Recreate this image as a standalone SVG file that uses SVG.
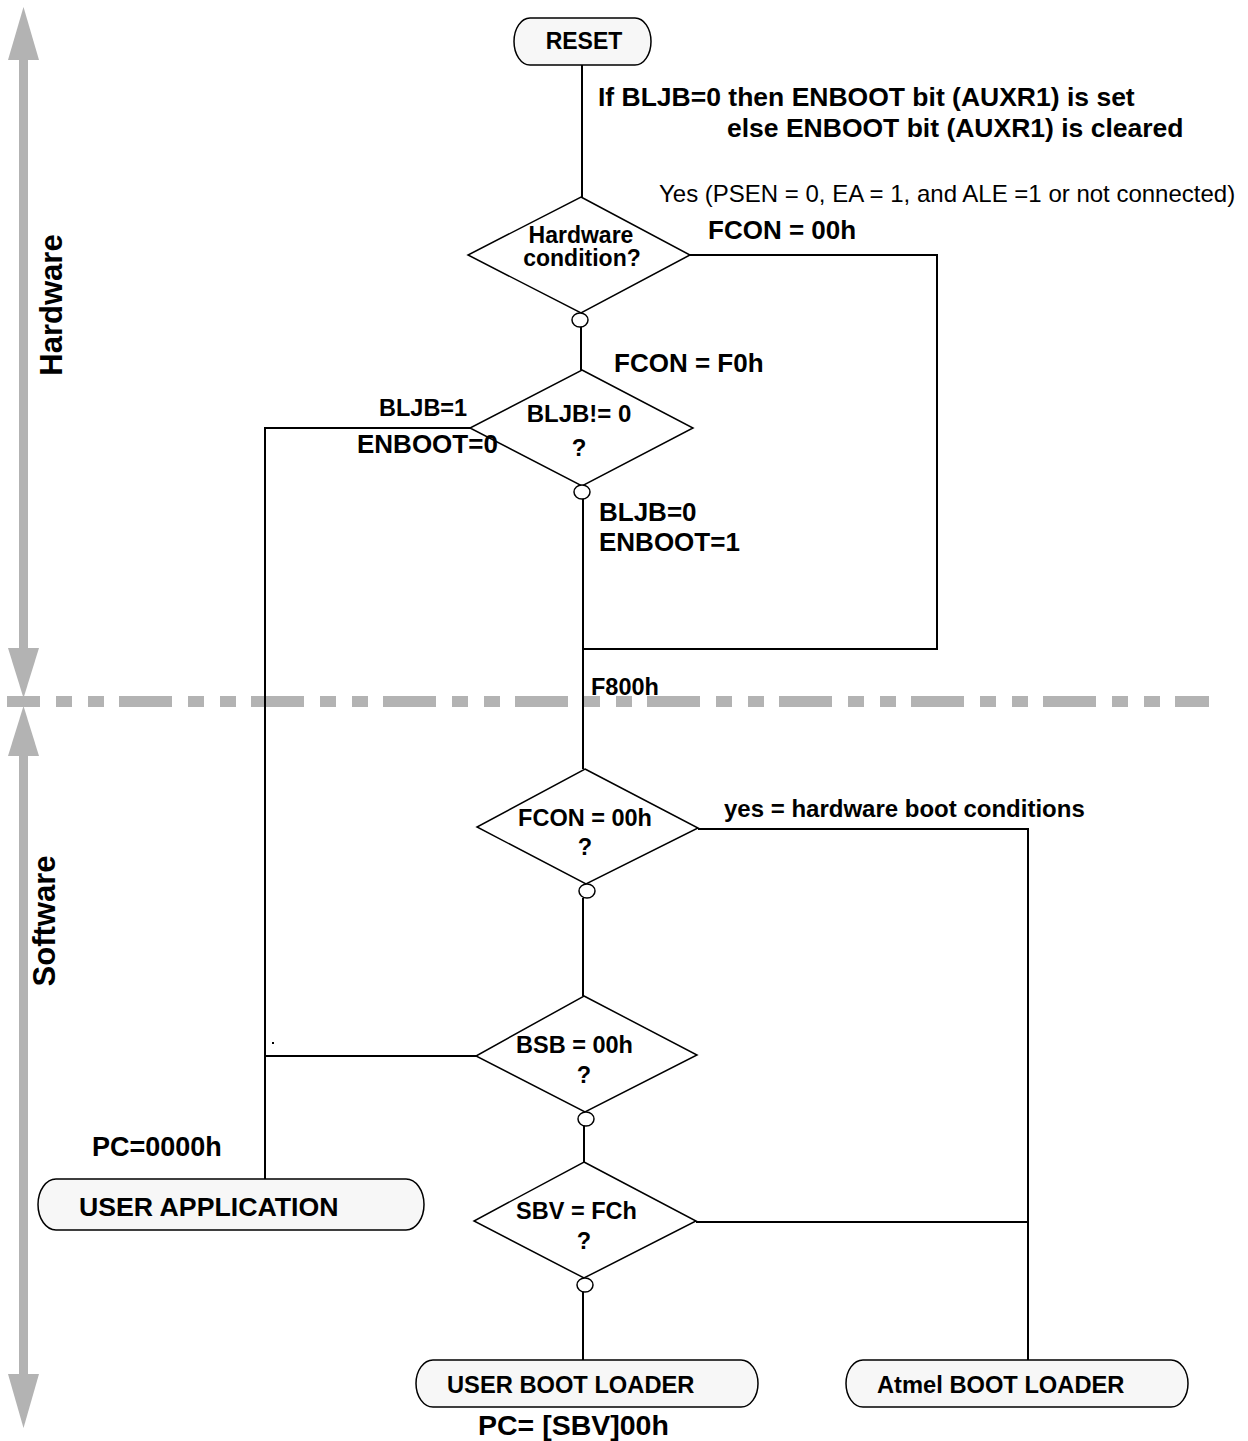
<svg xmlns="http://www.w3.org/2000/svg" width="1248" height="1441" viewBox="0 0 1248 1441">
<style>
text{font-family:"Liberation Sans",Arial,sans-serif;font-weight:bold;fill:#000}
.reg{font-weight:normal}
.mid{text-anchor:middle}
.term{fill:#f7f7f7;stroke:#000;stroke-width:1.5}
.dia{fill:#fff;stroke:#000;stroke-width:1.5}
.knot{fill:#fff;stroke:#000;stroke-width:1.5}
.conn{fill:none;stroke:#000;stroke-width:2}
.grey{fill:#b3b3b3}
</style>
<rect width="1248" height="1441" fill="#fff"/>

<g id="section-markers">
  <rect class="grey" x="19" y="58" width="9" height="592"/>
  <polygon class="grey" points="23.5,7 8,60 39,60"/>
  <polygon class="grey" points="23.5,698 8,648 39,648"/>
  <rect class="grey" x="19" y="754" width="9" height="622"/>
  <polygon class="grey" points="23.5,706 8,756 39,756"/>
  <polygon class="grey" points="23.5,1428 8,1374 39,1374"/>
  <line x1="7" y1="701.5" x2="1209" y2="701.5" stroke="#b3b3b3" stroke-width="11" stroke-dasharray="53 16 16 16 16 15" stroke-dashoffset="20"/>
  <text transform="translate(62,305) rotate(-90)" class="mid" font-size="31">Hardware</text>
  <text transform="translate(55,921) rotate(-90)" class="mid" font-size="31">Software</text>
</g>

<g id="connectors">
  <path class="conn" d="M582,65 V197"/>
  <path class="conn" d="M581,327 V370"/>
  <path class="conn" d="M583,499 V769"/>
  <path class="conn" d="M690,255 H937 V649 H583"/>
  <path class="conn" d="M470,428 H265 V1179"/>
  <path class="conn" d="M583,898 V996"/>
  <path class="conn" d="M476,1056 H265"/>
  <path class="conn" d="M584,1125 V1162"/>
  <path class="conn" d="M583,1292 V1360"/>
  <path class="conn" d="M698,829 H1028 V1360"/>
  <path class="conn" d="M696,1222 H1028"/>
  <rect x="272" y="1042" width="2" height="2" fill="#000"/>
</g>

<g id="reset">
  <rect class="term" x="514" y="18" width="137" height="47" rx="16" ry="23.5"/>
  <text x="584" y="49" class="mid" font-size="23">RESET</text>
</g>

<g id="hardware-condition">
  <polygon class="dia" points="581,197 690,255 581,313 468,255"/>
  <text x="581" y="242.5" class="mid" font-size="23">Hardware</text>
  <text x="582" y="265.5" class="mid" font-size="23">condition?</text>
  <ellipse class="knot" cx="580" cy="320" rx="8" ry="7"/>
</g>

<g id="bljb-check">
  <polygon class="dia" points="582,370 693,428 582,486 470,428"/>
  <text x="579" y="421.5" class="mid" font-size="24">BLJB!= 0</text>
  <text x="579" y="455.5" class="mid" font-size="24">?</text>
  <ellipse class="knot" cx="582" cy="492" rx="8" ry="7"/>
</g>

<g id="fcon-check">
  <polygon class="dia" points="585,769 698,828 586,884 477,827"/>
  <text x="585" y="825.5" class="mid" font-size="23.5">FCON = 00h</text>
  <text x="585" y="854.5" class="mid" font-size="23.5">?</text>
  <ellipse class="knot" cx="587" cy="891" rx="8" ry="7"/>
</g>

<g id="bsb-check">
  <polygon class="dia" points="584,996 697,1055 585,1112 476,1056"/>
  <text x="574.5" y="1052.5" class="mid" font-size="23.5">BSB = 00h</text>
  <text x="584" y="1082.5" class="mid" font-size="23.5">?</text>
  <ellipse class="knot" cx="586" cy="1119" rx="8" ry="7"/>
</g>

<g id="sbv-check">
  <polygon class="dia" points="584,1162 696,1221 584,1278 474,1221"/>
  <text x="576.5" y="1218.5" class="mid" font-size="23.5">SBV = FCh</text>
  <text x="584" y="1248.5" class="mid" font-size="23.5">?</text>
  <ellipse class="knot" cx="585" cy="1285" rx="8" ry="7"/>
</g>

<g id="user-application">
  <rect class="term" x="38" y="1179" width="386" height="51" rx="18" ry="25.5"/>
  <text x="79" y="1215.5" font-size="26.7">USER APPLICATION</text>
</g>

<g id="user-boot-loader">
  <rect class="term" x="416" y="1360" width="342" height="47" rx="17" ry="23.5"/>
  <text x="447" y="1392.5" font-size="23.7">USER BOOT LOADER</text>
</g>

<g id="atmel-boot-loader">
  <rect class="term" x="846" y="1360" width="342" height="47" rx="17" ry="23.5"/>
  <text x="877" y="1392.5" font-size="23.7">Atmel BOOT LOADER</text>
</g>

<g id="labels">
  <text x="598" y="105.5" font-size="26.5">If BLJB=0 then ENBOOT bit (AUXR1) is set</text>
  <text x="727" y="136.5" font-size="26.5">else ENBOOT bit (AUXR1) is cleared</text>
  <text x="659" y="201.5" font-size="24" class="reg">Yes (PSEN = 0, EA = 1, and ALE =1 or not connected)</text>
  <text x="708" y="239" font-size="26">FCON = 00h</text>
  <text x="614" y="372" font-size="26">FCON = F0h</text>
  <text x="379" y="415.5" font-size="23.5">BLJB=1</text>
  <text x="357" y="453" font-size="26">ENBOOT=0</text>
  <text x="599" y="521" font-size="26">BLJB=0</text>
  <text x="599" y="551" font-size="26">ENBOOT=1</text>
  <text x="591" y="694.5" font-size="23.5">F800h</text>
  <text x="724" y="816.5" font-size="24">yes = hardware boot conditions</text>
  <text x="92" y="1155.5" font-size="27">PC=0000h</text>
  <text x="478" y="1435" font-size="28.5">PC= [SBV]00h</text>
</g>
</svg>
